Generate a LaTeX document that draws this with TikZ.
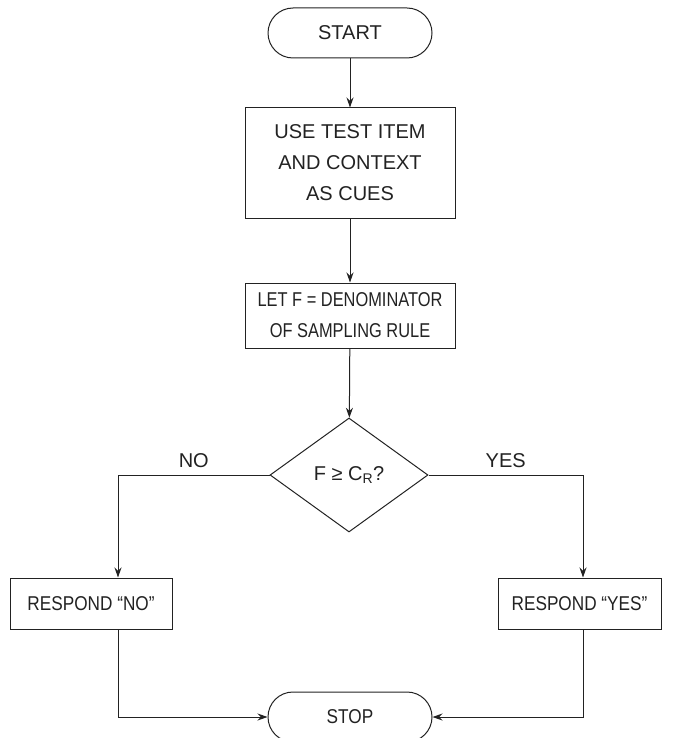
\documentclass[tikz,border=0pt]{standalone}
\usepackage{fontspec}
\setmainfont{Liberation Sans}
\newfontfamily\narrowsans[FakeStretch=0.82]{Liberation Sans}
\newfontfamily\semisans[FakeStretch=0.86]{Liberation Sans}
\usetikzlibrary{shapes.geometric,arrows.meta}
\definecolor{ink}{HTML}{222222}
\begin{document}
\begin{tikzpicture}[x=1pt,y=-1pt,
  line width=1pt,
  every node/.style={font=\fontsize{20}{31}\selectfont, text=ink},
  terminal/.style={draw=ink, rounded corners=25pt, minimum width=164pt, minimum height=50pt, inner sep=0pt},
  procbox/.style={draw=ink, align=center, inner sep=0pt},
  decision/.style={draw=ink, diamond, minimum width=158pt, minimum height=114pt, inner sep=0pt},
  flow/.style={draw=ink, -{Stealth[length=10pt,width=7pt]}}]
\useasboundingbox (0,0) rectangle (673,738);

% nodes
\node[terminal] (start) at (350,33) {START};
\node[procbox, minimum width=210pt, minimum height=110pt] (cues) at (350,163)
  {USE TEST ITEM\\AND CONTEXT\\AS CUES};
\node[procbox, minimum width=210pt, minimum height=65pt,
      font=\narrowsans\fontsize{20}{31}\selectfont] (let) at (350,315.5)
  {LET F = DENOMINATOR\\OF SAMPLING RULE};
\node[decision] (dec) at (349,475) {F ≥ C\textsubscript{R}?};
\node[procbox, minimum width=162pt, minimum height=51pt,
      font=\semisans\fontsize{20}{31}\selectfont] (rno) at (91,603.5) {RESPOND “NO”};
\node[procbox, minimum width=163pt, minimum height=51pt,
      font=\semisans\fontsize{20}{31}\selectfont] (ryes) at (579.5,603.5) {RESPOND “YES”};
\node[terminal, font=\semisans\fontsize{20}{31}\selectfont] (stop) at (350,717) {STOP};

% connectors
\draw[flow] (start) -- (cues);
\draw[flow] (cues) -- (let);
\draw[flow] (let) -- (dec);
\draw[flow] (dec.west) -| node[pos=0.25, above=3pt] {NO} ([xshift=27pt]rno.north);
\draw[flow] (dec.east) -| node[pos=0.25, above=3pt] {YES} ([xshift=3.5pt]ryes.north);
\draw[flow] ([xshift=27pt]rno.south) |- (stop.west);
\draw[flow] ([xshift=3.5pt]ryes.south) |- (stop.east);
\end{tikzpicture}
\end{document}
